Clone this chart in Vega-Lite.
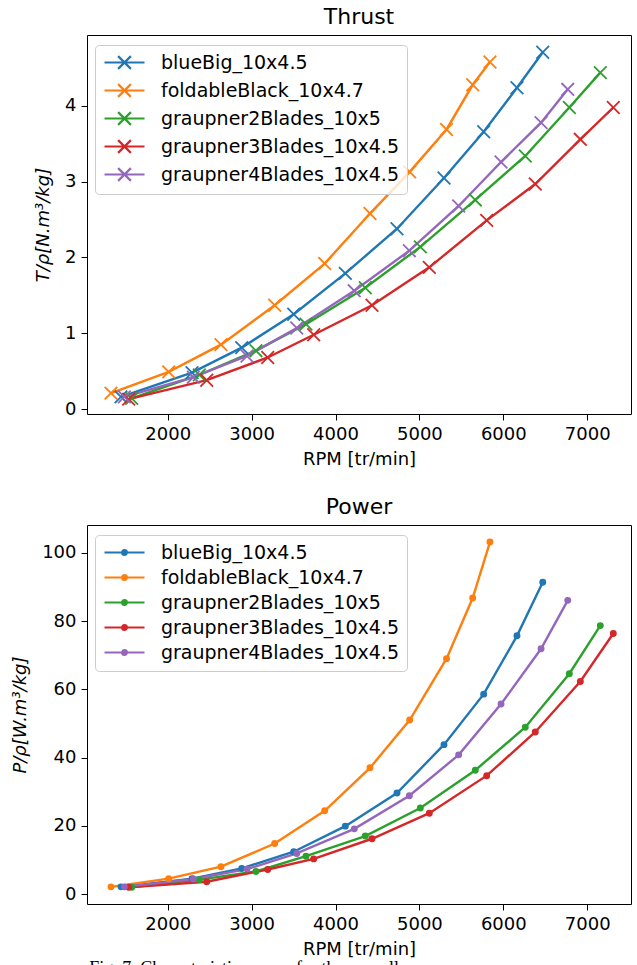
{
  "$schema": "https://vega.github.io/schema/vega-lite/v6.json",
  "background": "white",
  "padding": {"left": 11, "top": 5, "right": 0, "bottom": 0},
  "config": {
    "font": "DejaVu Sans",
    "view": {"stroke": "black", "strokeWidth": 1},
    "axis": {"grid": false, "domain": false, "tickColor": "black", "tickSize": 6, "tickWidth": 1, "labelColor": "black", "labelFontSize": 18, "labelFont": "DejaVu Sans", "titleFont": "DejaVu Sans", "titleFontSize": 18, "titleFontWeight": "normal", "titleColor": "black", "labelPadding": 5, "format": "d"},
    "axisX": {"titlePadding": 7},
    "axisY": {"titlePadding": 12, "titleFontStyle": "italic"},
    "title": {"fontSize": 22, "fontWeight": "normal", "font": "DejaVu Sans", "color": "black", "offset": 6},
    "legend": {"title": null, "orient": "none", "legendX": 8, "legendY": 10, "symbolSize": 256, "symbolStrokeWidth": 2.2, "labelFontSize": 19, "labelFont": "DejaVu Sans", "labelColor": "black", "labelOffset": 39, "labelLimit": 0, "rowPadding": 5, "padding": 8, "strokeColor": "#cccccc", "fillColor": "rgba(255,255,255,0.8)", "cornerRadius": 4}
  },
  "data": {"values": [
    {"prop": "blueBig_10x4.5", "rpm": 1443, "thrust": 0.16, "power": 2.1},
    {"prop": "blueBig_10x4.5", "rpm": 2290, "thrust": 0.48, "power": 4.5},
    {"prop": "blueBig_10x4.5", "rpm": 2882, "thrust": 0.81, "power": 7.5},
    {"prop": "blueBig_10x4.5", "rpm": 3502, "thrust": 1.25, "power": 12.4},
    {"prop": "blueBig_10x4.5", "rpm": 4117, "thrust": 1.79, "power": 19.9},
    {"prop": "blueBig_10x4.5", "rpm": 4733, "thrust": 2.38, "power": 29.6},
    {"prop": "blueBig_10x4.5", "rpm": 5293, "thrust": 3.05, "power": 43.8},
    {"prop": "blueBig_10x4.5", "rpm": 5766, "thrust": 3.66, "power": 58.6},
    {"prop": "blueBig_10x4.5", "rpm": 6163, "thrust": 4.24, "power": 75.7},
    {"prop": "blueBig_10x4.5", "rpm": 6470, "thrust": 4.71, "power": 91.4},
    {"prop": "foldableBlack_10x4.7", "rpm": 1324, "thrust": 0.21, "power": 2.1},
    {"prop": "foldableBlack_10x4.7", "rpm": 2012, "thrust": 0.49, "power": 4.5},
    {"prop": "foldableBlack_10x4.7", "rpm": 2635, "thrust": 0.85, "power": 8.0},
    {"prop": "foldableBlack_10x4.7", "rpm": 3275, "thrust": 1.37, "power": 14.8},
    {"prop": "foldableBlack_10x4.7", "rpm": 3871, "thrust": 1.92, "power": 24.4},
    {"prop": "foldableBlack_10x4.7", "rpm": 4411, "thrust": 2.58, "power": 37.0},
    {"prop": "foldableBlack_10x4.7", "rpm": 4884, "thrust": 3.13, "power": 51.0},
    {"prop": "foldableBlack_10x4.7", "rpm": 5323, "thrust": 3.69, "power": 69.0},
    {"prop": "foldableBlack_10x4.7", "rpm": 5635, "thrust": 4.28, "power": 86.8},
    {"prop": "foldableBlack_10x4.7", "rpm": 5841, "thrust": 4.58, "power": 103.2},
    {"prop": "graupner2Blades_10x5", "rpm": 1571, "thrust": 0.14, "power": 2.0},
    {"prop": "graupner2Blades_10x5", "rpm": 2377, "thrust": 0.45, "power": 4.2},
    {"prop": "graupner2Blades_10x5", "rpm": 3052, "thrust": 0.77, "power": 6.6},
    {"prop": "graupner2Blades_10x5", "rpm": 3648, "thrust": 1.12, "power": 11.1},
    {"prop": "graupner2Blades_10x5", "rpm": 4355, "thrust": 1.60, "power": 17.0},
    {"prop": "graupner2Blades_10x5", "rpm": 5011, "thrust": 2.14, "power": 25.2},
    {"prop": "graupner2Blades_10x5", "rpm": 5666, "thrust": 2.76, "power": 36.3},
    {"prop": "graupner2Blades_10x5", "rpm": 6262, "thrust": 3.34, "power": 48.9},
    {"prop": "graupner2Blades_10x5", "rpm": 6787, "thrust": 3.98, "power": 64.6},
    {"prop": "graupner2Blades_10x5", "rpm": 7156, "thrust": 4.44, "power": 78.7},
    {"prop": "graupner3Blades_10x4.5", "rpm": 1535, "thrust": 0.13, "power": 2.0},
    {"prop": "graupner3Blades_10x4.5", "rpm": 2465, "thrust": 0.38, "power": 3.6},
    {"prop": "graupner3Blades_10x4.5", "rpm": 3192, "thrust": 0.68, "power": 7.2},
    {"prop": "graupner3Blades_10x4.5", "rpm": 3740, "thrust": 0.98, "power": 10.3},
    {"prop": "graupner3Blades_10x4.5", "rpm": 4435, "thrust": 1.37, "power": 16.2},
    {"prop": "graupner3Blades_10x4.5", "rpm": 5118, "thrust": 1.87, "power": 23.7},
    {"prop": "graupner3Blades_10x4.5", "rpm": 5802, "thrust": 2.49, "power": 34.7},
    {"prop": "graupner3Blades_10x4.5", "rpm": 6381, "thrust": 2.97, "power": 47.5},
    {"prop": "graupner3Blades_10x4.5", "rpm": 6918, "thrust": 3.56, "power": 62.3},
    {"prop": "graupner3Blades_10x4.5", "rpm": 7311, "thrust": 3.98, "power": 76.4},
    {"prop": "graupner4Blades_10x4.5", "rpm": 1483, "thrust": 0.16, "power": 2.1},
    {"prop": "graupner4Blades_10x4.5", "rpm": 2305, "thrust": 0.42, "power": 4.4},
    {"prop": "graupner4Blades_10x4.5", "rpm": 2945, "thrust": 0.70, "power": 7.3},
    {"prop": "graupner4Blades_10x4.5", "rpm": 3538, "thrust": 1.07, "power": 11.9},
    {"prop": "graupner4Blades_10x4.5", "rpm": 4224, "thrust": 1.56, "power": 19.1},
    {"prop": "graupner4Blades_10x4.5", "rpm": 4880, "thrust": 2.09, "power": 28.8},
    {"prop": "graupner4Blades_10x4.5", "rpm": 5468, "thrust": 2.68, "power": 40.8},
    {"prop": "graupner4Blades_10x4.5", "rpm": 5973, "thrust": 3.26, "power": 55.7},
    {"prop": "graupner4Blades_10x4.5", "rpm": 6450, "thrust": 3.78, "power": 71.9},
    {"prop": "graupner4Blades_10x4.5", "rpm": 6768, "thrust": 4.22, "power": 86.1}
  ]},
  "spacing": 26,
  "resolve": {"scale": {"color": "independent", "x": "independent", "y": "independent"}, "legend": {"color": "independent"}},
  "title": {"text": "Fig. 7.  Characteristic curves for the propellers.", "orient": "bottom", "anchor": "start", "dx": 78, "offset": 1, "font": "Liberation Serif", "fontSize": 18, "fontWeight": "normal", "color": "black"},
  "vconcat": [
    {
      "title": "Thrust",
      "width": 544,
      "height": 379,
      "layer": [
        {
          "mark": {"type": "line", "strokeWidth": 2.4, "clip": true},
          "encoding": {
            "x": {"field": "rpm", "type": "quantitative", "scale": {"domain": [1038, 7522], "nice": false, "zero": false}, "axis": {"values": [2000, 3000, 4000, 5000, 6000, 7000], "title": "RPM [tr/min]"}},
            "y": {"field": "thrust", "type": "quantitative", "scale": {"domain": [-0.066, 4.937], "nice": false, "zero": false}, "axis": {"values": [0, 1, 2, 3, 4], "title": "T/ρ[N.m³/kg]"}},
            "color": {"field": "prop", "type": "nominal", "scale": {"range": ["#1f77b4", "#ff7f0e", "#2ca02c", "#d62728", "#9467bd"]},
              "legend": {"symbolType": "M-1,0L4,0M0.7,-0.8L2.3,0.8M0.7,0.8L2.3,-0.8",
                "encode": {"symbols": {"update": {"fill": {"value": "transparent"}, "stroke": {"signal": "datum.value == 'blueBig_10x4.5' ? '#1f77b4' : datum.value == 'foldableBlack_10x4.7' ? '#ff7f0e' : datum.value == 'graupner2Blades_10x5' ? '#2ca02c' : datum.value == 'graupner3Blades_10x4.5' ? '#d62728' : '#9467bd'"}, "opacity": {"value": 1}}}}}}
          }
        },
        {
          "mark": {"type": "point", "shape": "M-1,-1L1,1M-1,1L1,-1", "filled": false, "size": 160, "strokeWidth": 1.8, "opacity": 1, "clip": true},
          "encoding": {
            "x": {"field": "rpm", "type": "quantitative"},
            "y": {"field": "thrust", "type": "quantitative"},
            "color": {"field": "prop", "type": "nominal"}
          }
        }
      ]
    },
    {
      "title": "Power",
      "width": 544,
      "height": 379,
      "layer": [
        {
          "mark": {"type": "line", "strokeWidth": 2.4, "clip": true},
          "encoding": {
            "x": {"field": "rpm", "type": "quantitative", "scale": {"domain": [1038, 7522], "nice": false, "zero": false}, "axis": {"values": [2000, 3000, 4000, 5000, 6000, 7000], "title": "RPM [tr/min]"}},
            "y": {"field": "power", "type": "quantitative", "scale": {"domain": [-2.93, 108.2], "nice": false, "zero": false}, "axis": {"values": [0, 20, 40, 60, 80, 100], "title": "P/ρ[W.m³/kg]"}},
            "color": {"field": "prop", "type": "nominal", "scale": {"range": ["#1f77b4", "#ff7f0e", "#2ca02c", "#d62728", "#9467bd"]},
              "legend": {"symbolType": "M-1,0L4,0M1.8,0A0.3,0.3 0 1,1 1.2,0A0.3,0.3 0 1,1 1.8,0Z",
                "encode": {"symbols": {"update": {"fill": {"signal": "datum.value == 'blueBig_10x4.5' ? '#1f77b4' : datum.value == 'foldableBlack_10x4.7' ? '#ff7f0e' : datum.value == 'graupner2Blades_10x5' ? '#2ca02c' : datum.value == 'graupner3Blades_10x4.5' ? '#d62728' : '#9467bd'"}, "stroke": {"signal": "datum.value == 'blueBig_10x4.5' ? '#1f77b4' : datum.value == 'foldableBlack_10x4.7' ? '#ff7f0e' : datum.value == 'graupner2Blades_10x5' ? '#2ca02c' : datum.value == 'graupner3Blades_10x4.5' ? '#d62728' : '#9467bd'"}, "opacity": {"value": 1}}}}}}
          }
        },
        {
          "mark": {"type": "point", "shape": "circle", "filled": true, "size": 48, "opacity": 1, "clip": true},
          "encoding": {
            "x": {"field": "rpm", "type": "quantitative"},
            "y": {"field": "power", "type": "quantitative"},
            "color": {"field": "prop", "type": "nominal"}
          }
        }
      ]
    }
  ]
}
